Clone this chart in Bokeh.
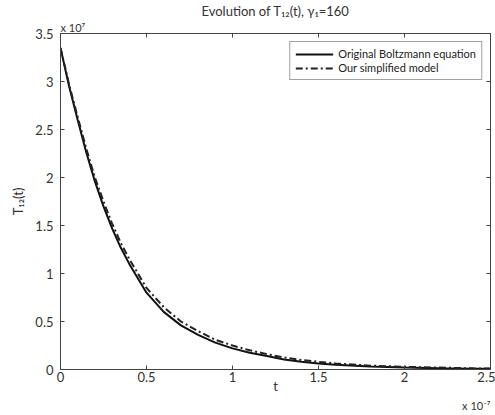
from bokeh.plotting import figure
from bokeh.models import Range1d, FixedTicker, LinearAxis, Legend, LegendItem, Title
from bokeh.embed import file_html
from bokeh.resources import INLINE

# time in units of 1e-7, T12 in units of 1e7
t_vals = [0, 0.05, 0.1, 0.15, 0.2, 0.25, 0.3, 0.35, 0.4, 0.5, 0.6, 0.7, 0.8, 0.9,
          1.0, 1.1, 1.2, 1.3, 1.4, 1.5, 1.6, 1.8, 2.0, 2.2, 2.4, 2.5]
boltzmann = [3.35, 2.95, 2.60, 2.26, 1.96, 1.70, 1.47, 1.27, 1.10, 0.80, 0.60, 0.46, 0.36, 0.28,
             0.22, 0.175, 0.14, 0.105, 0.08, 0.062, 0.05, 0.03, 0.02, 0.013, 0.008, 0.007]
simplified = [3.35, 2.97, 2.63, 2.30, 2.00, 1.75, 1.52, 1.32, 1.15, 0.85, 0.65, 0.50, 0.40, 0.31,
              0.25, 0.20, 0.16, 0.125, 0.10, 0.08, 0.063, 0.04, 0.028, 0.02, 0.012, 0.01]

x_ticks = [0, 0.5, 1, 1.5, 2, 2.5]
x_tick_labels = ["0", "0.5", "1", "1.5", "2", "2.5"]
y_ticks = [0, 0.5, 1, 1.5, 2, 2.5, 3, 3.5]
y_tick_labels = ["0", "0.5", "1", "1.5", "2", "2.5", "3", "3.5"]

FONT = "Lato"
TXT = "#333333"

p = figure(frame_width=430, frame_height=336, output_backend="svg", toolbar_location=None,
           x_range=Range1d(0, 2.5), y_range=Range1d(0, 3.5),
           min_border_left=60, min_border_top=0, min_border_right=5, min_border_bottom=0,
           title="Evolution of T\u2081\u2082(t), \u03b3\u2081=160")
p.background_fill_color = "white"
p.border_fill_color = "white"
p.outline_line_color = "#444444"
p.grid.visible = False

p.title.align = "center"
p.title.text_font = FONT
p.title.text_font_size = "13px"
p.title.text_font_style = "normal"
p.title.text_color = TXT
p.title.text_line_height = 1.0
p.title.standoff = 0
p.title.offset = -5

def style_axis(ax):
    ax.axis_line_color = "#444444"
    ax.major_tick_line_color = "#444444"
    ax.major_tick_in = 4
    ax.major_tick_out = 0
    ax.minor_tick_line_color = None
    ax.major_label_text_font = FONT
    ax.major_label_text_color = TXT
    ax.major_label_text_font_size = "13px"
    ax.major_label_text_line_height = 1.0

xa = p.xaxis[0]
xa.ticker = FixedTicker(ticks=x_ticks)
xa.major_label_overrides = dict(zip(x_ticks, x_tick_labels))
style_axis(xa)
xa.major_label_standoff = 2
xa.axis_label = "t"
xa.axis_label_text_font = FONT
xa.axis_label_text_font_style = "normal"
xa.axis_label_text_font_size = "13px"
xa.axis_label_text_line_height = 1.0
xa.axis_label_text_color = TXT
xa.axis_label_standoff = -7

ya = p.yaxis[0]
ya.ticker = FixedTicker(ticks=y_ticks)
ya.major_label_overrides = dict(zip(y_ticks, y_tick_labels))
style_axis(ya)
ya.major_label_standoff = 7
ya.axis_label = "T\u2081\u2082(t)"
ya.axis_label_text_font = FONT
ya.axis_label_text_font_style = "normal"
ya.axis_label_text_font_size = "13px"
ya.axis_label_text_color = TXT
ya.axis_label_standoff = 6

top_ax = LinearAxis(ticker=FixedTicker(ticks=x_ticks))
style_axis(top_ax)
top_ax.major_label_overrides = {t: "" for t in x_ticks}
top_ax.major_label_standoff = 0
p.add_layout(top_ax, "above")
right_ax = LinearAxis(ticker=FixedTicker(ticks=y_ticks))
style_axis(right_ax)
right_ax.major_label_overrides = {t: "" for t in y_ticks}
right_ax.major_label_standoff = 0
p.add_layout(right_ax, "right")

ymult = Title(text="x 10\u2077", align="left", text_font=FONT, text_font_size="11px",
              text_font_style="normal", text_color=TXT, standoff=0, text_line_height=0.9)
p.add_layout(ymult, "above")
xmult = Title(text="x 10\u207b\u2077", align="right", text_font=FONT, text_font_size="11px",
              text_font_style="normal", text_color=TXT, standoff=0, text_line_height=1.1)
p.add_layout(xmult, "below")

r1 = p.line(t_vals, boltzmann, line_color="#111111", line_width=2)
r2 = p.line(t_vals, simplified, line_color="#222222", line_width=2, line_dash="7 3 2 3")

legend = Legend(items=[LegendItem(label="Original Boltzmann equation", renderers=[r1]),
                       LegendItem(label="Our simplified model", renderers=[r2])],
                location="top_right")
legend.margin = 8
legend.padding = 5
legend.spacing = 1
legend.glyph_width = 38
legend.glyph_height = 12
legend.label_height = 12
legend.label_text_font = FONT
legend.label_text_font_size = "11px"
legend.label_text_color = "#222222"
legend.border_line_color = "#444444"
legend.border_line_width = 1
legend.background_fill_color = "white"
legend.background_fill_alpha = 1
p.add_layout(legend, "center")

open("out.html", "w").write(file_html(p, INLINE))
